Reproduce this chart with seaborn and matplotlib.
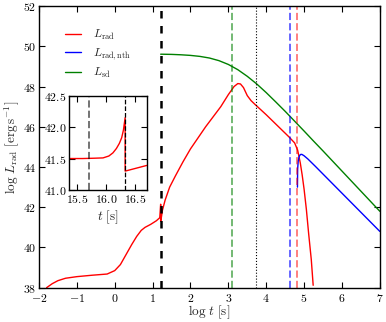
import numpy as np
import pandas as pd
import matplotlib
matplotlib.use("Agg")
import matplotlib.pyplot as plt
import seaborn as sns

# main curves (log t [s], log L [erg/s])
rad_logt = [-1.80, -1.65, -1.50, -1.30, -1.00, -0.60, -0.20, 0.00, 0.15, 0.30, 0.45, 0.58,
            0.70, 0.80, 0.95, 1.10, 1.19, 1.213, 1.213, 1.223, 1.26, 1.33, 1.45, 1.60, 1.80,
            2.00, 2.40, 2.80, 3.00, 3.15, 3.25, 3.32, 3.40, 3.50, 3.60, 3.70, 4.00, 4.30,
            4.60, 4.75, 4.83, 4.90, 4.95, 5.00, 5.06, 5.12, 5.19, 5.24]
rad_logL = [38.00, 38.20, 38.35, 38.47, 38.55, 38.62, 38.68, 38.85, 39.15, 39.65, 40.15, 40.55,
            40.85, 41.00, 41.15, 41.33, 41.48, 42.15, 41.30, 41.39, 41.85, 42.35, 43.00, 43.55, 44.25,
            44.90, 46.00, 47.00, 47.60, 48.00, 48.15, 48.13, 47.95, 47.55, 47.30, 47.12, 46.60, 46.05,
            45.50, 45.20, 44.84, 44.20, 43.60, 42.90, 41.90, 40.70, 39.40, 38.12]

nth_logt = [4.825, 4.83, 4.845, 4.87, 4.90, 4.94, 5.00, 5.10, 5.30, 6.00, 7.00]
nth_logL = [43.00, 43.90, 44.30, 44.52, 44.62, 44.63, 44.56, 44.40, 44.03, 42.70, 40.80]

sd_logt = [1.213, 1.5, 1.75, 2.0, 2.25, 2.5, 2.75, 3.0, 3.25, 3.5, 3.75, 4.0, 4.25, 4.5,
           4.75, 5.0, 5.25, 5.5, 6.0, 6.5, 7.0]
sd_logL = [49.61, 49.60, 49.58, 49.55, 49.50, 49.42, 49.29, 49.10, 48.84, 48.51, 48.13, 47.70,
           47.24, 46.77, 46.28, 45.79, 45.29, 44.80, 43.80, 42.80, 41.80]

# inset (t [s], log L)
ins_t = [15.37, 15.60, 15.80, 15.95, 16.05, 16.12, 16.18, 16.23, 16.27, 16.30, 16.33, 16.33, 16.70]
ins_logL = [41.50, 41.50, 41.505, 41.51, 41.54, 41.59, 41.66, 41.74, 41.83, 41.95, 42.15, 41.30, 41.39]

# vertical markers
t_jump = 1.213
t_green = 3.09
t_dot = 3.72
t_blue = 4.62
t_red = 4.80
ins_gray = 15.71
ins_black = 16.33

sns.set_style("ticks")
plt.rcParams.update({
    "font.family": "serif",
    "font.serif": ["cmr10", "DejaVu Serif"],
    "mathtext.fontset": "cm",
    "axes.formatter.use_mathtext": True,
    "axes.edgecolor": "black",
    "axes.linewidth": 1.0,
    "xtick.direction": "in",
    "ytick.direction": "in",
    "xtick.top": True,
    "ytick.right": True,
    "xtick.major.size": 4,
    "ytick.major.size": 4,
    "xtick.color": "black",
    "ytick.color": "black",
    "font.size": 9,
})

fig = plt.figure(figsize=(3.86, 3.22), dpi=100)
ax = fig.add_axes([0.101, 0.1065, 0.883, 0.8745])

df_rad = pd.DataFrame({"x": rad_logt, "y": rad_logL})
df_nth = pd.DataFrame({"x": nth_logt, "y": nth_logL})
df_sd = pd.DataFrame({"x": sd_logt, "y": sd_logL})

sns.lineplot(data=df_rad, x="x", y="y", ax=ax, color="r", lw=1.0, sort=False,
             estimator=None, label=r"$L_{\rm rad}$")
sns.lineplot(data=df_nth, x="x", y="y", ax=ax, color="b", lw=1.0, sort=False,
             estimator=None, label=r"$L_{\rm rad,nth}$")
sns.lineplot(data=df_sd, x="x", y="y", ax=ax, color="g", lw=1.0, sort=False,
             estimator=None, label=r"$L_{\rm sd}$")

ax.axvline(t_jump, color="k", ls="--", lw=1.8, dashes=(3, 3))
ax.axvline(t_green, color="g", ls="--", lw=1.4, alpha=0.55)
ax.axvline(t_dot, color="k", ls=":", lw=0.8)
ax.axvline(t_blue, color="b", ls="--", lw=1.4, alpha=0.6)
ax.axvline(t_red, color="r", ls="--", lw=1.4, alpha=0.5)

ax.set_xlim(-2, 7)
ax.set_ylim(38, 52)
ax.set_xticks(range(-2, 8))
ax.set_yticks(range(38, 53, 2))
ax.set_xlabel(r"$\log\,t\ [{\rm s}]$", fontsize=9.5, labelpad=0)
ax.set_ylabel(r"$\log\,L_{\rm rad}\ [{\rm erg\,s^{-1}}]$", fontsize=9.5, labelpad=1)
ax.tick_params(labelsize=8.5, pad=2)
ax.tick_params(axis="x", pad=3)

leg = ax.legend(loc="upper left", bbox_to_anchor=(0.045, 0.96), frameon=False,
                fontsize=8.5, handlelength=1.4, labelspacing=0.35, handletextpad=1.0)

# inset
axi = fig.add_axes([0.1795, 0.410, 0.2005, 0.293])
df_ins = pd.DataFrame({"x": ins_t, "y": ins_logL})
sns.lineplot(data=df_ins, x="x", y="y", ax=axi, color="r", lw=1.0, sort=False,
             estimator=None, legend=False)
axi.axvline(ins_gray, color="k", ls="--", lw=1.4, alpha=0.55)
axi.axvline(ins_black, color="k", ls="--", lw=0.9)
axi.set_xlim(15.37, 16.70)
axi.set_ylim(41.0, 42.5)
axi.set_xticks([15.5, 16.0, 16.5])
axi.set_yticks([41.0, 41.5, 42.0, 42.5])
axi.xaxis.set_major_formatter(matplotlib.ticker.FormatStrFormatter("$%.1f$"))
axi.yaxis.set_major_formatter(matplotlib.ticker.FormatStrFormatter("$%.1f$"))
axi.set_xlabel(r"$t\ [{\rm s}]$", fontsize=9.5, labelpad=3)
axi.set_ylabel("")
axi.tick_params(labelsize=8.5, pad=2)

fig.savefig("out.png", dpi=100)
